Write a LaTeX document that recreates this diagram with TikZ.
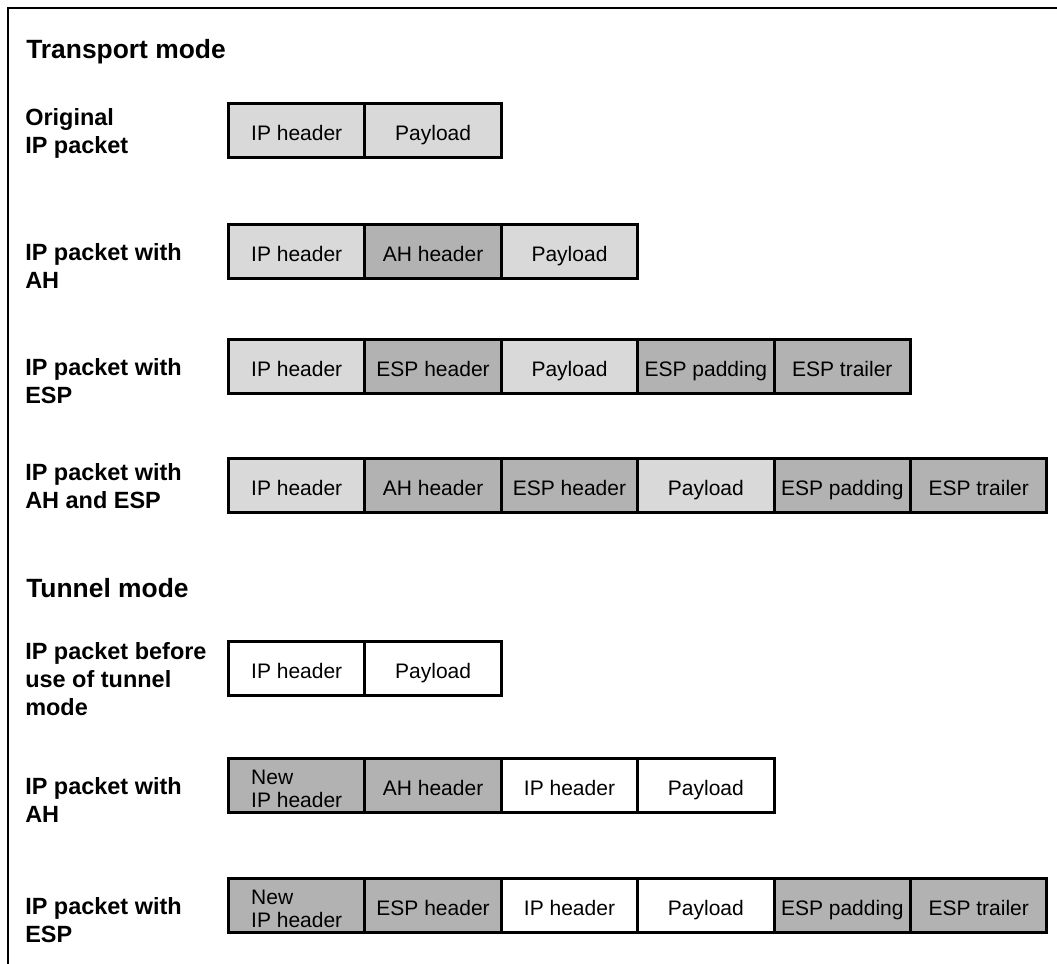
\documentclass[tikz,border=0pt]{standalone}
\usepackage{fontspec}
\setmainfont{Liberation Sans}
\usetikzlibrary{positioning}
\definecolor{lightcell}{gray}{0.85}
\definecolor{darkcell}{gray}{0.70}
\newcommand{\topgap}{\rule{0pt}{15.8pt}}
\begin{document}
\begin{tikzpicture}[x=0.75pt,y=-0.75pt,
  cell/.style={draw, line width=2.25pt, minimum width=102.3pt, minimum height=40.5pt,
    outer sep=0pt, inner sep=2pt, align=left, text height=15pt, text depth=0pt,
    font=\fontsize{15.75}{17.25}\selectfont},
  twoline/.style={text height={}, text depth={}},
  lite/.style={cell, fill=lightcell},
  dark/.style={cell, fill=darkcell},
  blank/.style={cell, fill=white},
  rowlabel/.style={anchor=north west, inner sep=0pt, align=left,
    font=\fontsize{17.6}{21}\selectfont\bfseries},
  heading/.style={anchor=base west, inner sep=0pt,
    font=\fontsize{19.8}{23}\selectfont\bfseries}]
\useasboundingbox (0,0) rectangle (1057,964);

% frame
\draw[line width=1.5pt] (1057,8) -- (8,8) -- (8,964);

% ---------- Transport mode ----------
\node[heading] (hTransport) at (26,58) {Transport mode};

\node[rowlabel] (l1) at (25,108) {Original\\IP packet};
\node[lite, anchor=west] (r1a) at (228.5,130.5) {IP header};
\node[lite, right=0pt of r1a] (r1b) {Payload};

\node[rowlabel] (l2) at (25,243) {IP packet with\\AH};
\node[lite, anchor=west] (r2a) at (228.5,251) {IP header};
\node[dark, right=0pt of r2a] (r2b) {AH header};
\node[lite, right=0pt of r2b] (r2c) {Payload};

\node[rowlabel] (l3) at (25,358) {IP packet with\\ESP};
\node[lite, anchor=west] (r3a) at (228.5,366.5) {IP header};
\node[dark, right=0pt of r3a] (r3b) {ESP header};
\node[lite, right=0pt of r3b] (r3c) {Payload};
\node[dark, right=0pt of r3c] (r3d) {ESP padding};
\node[dark, right=0pt of r3d] (r3e) {ESP trailer};

\node[rowlabel] (l4) at (25,463) {IP packet with\\AH and ESP};
\node[lite, anchor=west] (r4a) at (228.5,485) {IP header};
\node[dark, right=0pt of r4a] (r4b) {AH header};
\node[dark, right=0pt of r4b] (r4c) {ESP header};
\node[lite, right=0pt of r4c] (r4d) {Payload};
\node[dark, right=0pt of r4d] (r4e) {ESP padding};
\node[dark, right=0pt of r4e] (r4f) {ESP trailer};

% ---------- Tunnel mode ----------
\node[heading] (hTunnel) at (26,597) {Tunnel mode};

\node[rowlabel] (l5) at (25,642) {IP packet before\\use of tunnel\\mode};
\node[blank, anchor=west] (r5a) at (228.5,668.5) {IP header};
\node[blank, right=0pt of r5a] (r5b) {Payload};

\node[rowlabel] (l6) at (25,777) {IP packet with\\AH};
\node[dark, twoline, anchor=west] (r6a) at (228.5,785.5) {\topgap New\\IP header};
\node[dark, right=0pt of r6a] (r6b) {AH header};
\node[blank, right=0pt of r6b] (r6c) {IP header};
\node[blank, right=0pt of r6c] (r6d) {Payload};

\node[rowlabel] (l7) at (25,897) {IP packet with\\ESP};
\node[dark, twoline, anchor=west] (r7a) at (228.5,905.5) {\topgap New\\IP header};
\node[dark, right=0pt of r7a] (r7b) {ESP header};
\node[blank, right=0pt of r7b] (r7c) {IP header};
\node[blank, right=0pt of r7c] (r7d) {Payload};
\node[dark, right=0pt of r7d] (r7e) {ESP padding};
\node[dark, right=0pt of r7e] (r7f) {ESP trailer};
\end{tikzpicture}
\end{document}
